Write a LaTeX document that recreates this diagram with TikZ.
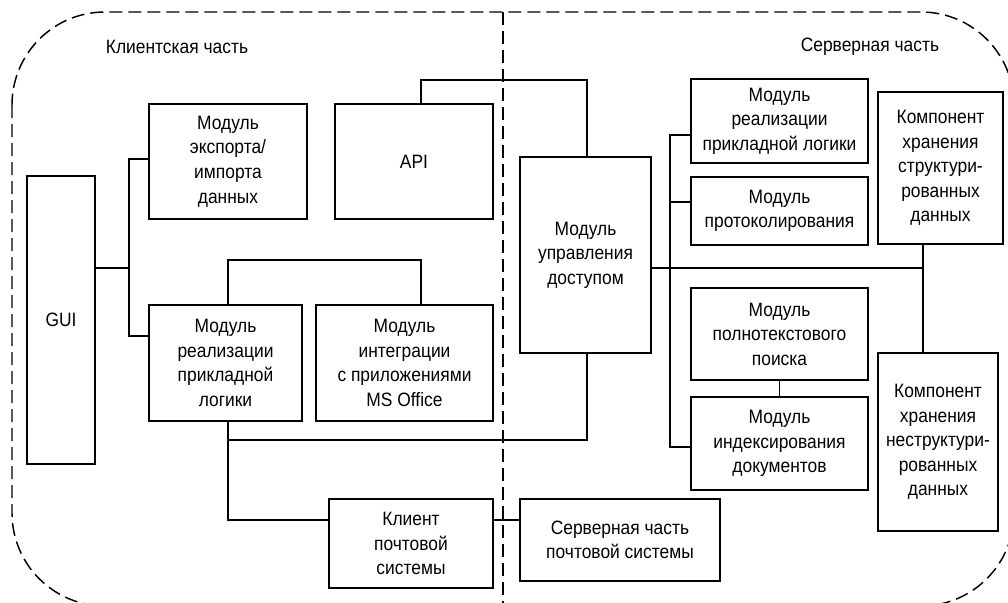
\documentclass[tikz,border=0pt]{standalone}
\usepackage{fontspec}
\setmainfont{Liberation Sans}[FakeStretch=0.9]
\usetikzlibrary{calc,positioning}

\begin{document}
\begin{tikzpicture}[
        x=0.75pt, y=-0.75pt,
        line width=1.3pt,
        every node/.style={font=\fontsize{14.5}{18.4}\selectfont, align=center, inner sep=0pt},
        box/.style 2 args={draw, minimum width=#1*0.75pt, minimum height=#2*0.75pt},
        boundary/.style={line width=1.1pt, dash pattern=on 9.75pt off 4.5pt}
    ]
    \useasboundingbox (0,0) rectangle (1008,603);
    \clip (0,0) rectangle (1008,603);

    % Parts
    \draw[boundary, rounded corners=69.75pt] (12,12) rectangle (1014,606);
    \draw[boundary] (503,12) -- (503,610);
    \node (client) at (177,47) {Клиентская часть};
    \node (server) at (870,47) {Серверная часть};

    % Nodes
    \node (gui)[box={68}{288}] at (61,320) {GUI};
    \node (export)[box={158}{115}] at (228,161.5) {Модуль \\ экспорта/ \\ импорта \\ данных};
    \node (api)[box={158}{115}] at (414,161.5) {API};
    \node (logic)[box={153}{116}] at (225.5,363) {Модуль \\ реализации \\ прикладной \\ логики};
    \node (office)[box={177}{116}] at (404.5,363) {Модуль \\ интеграции \\ с приложениями \\ MS Office};
    \node (mclient)[box={164}{89}] at (411,543.5) {Клиент \\ почтовой \\ системы};

    \node (access)[box={131}{196}] at (585.5,255) {Модуль \\ управления \\ доступом};
    \node (slogic)[box={177}{84}] at (779.5,121) {Модуль \\ реализации \\ прикладной логики};
    \node (proto)[box={177}{68}] at (779.5,211) {Модуль \\ протоколирования};
    \node (search)[box={177}{92}] at (779.5,334) {Модуль \\ полнотекстового \\ поиска};
    \node (index)[box={177}{93}] at (779.5,443.5) {Модуль \\ индексирования \\ документов};
    \node (struct)[box={125}{152}] at (940.5,168) {Компонент \\ хранения \\ структури- \\ рованных \\ данных};
    \node (unstruct)[box={120}{178}] at (938,442) {Компонент \\ хранения \\ неструктури- \\ рованных \\ данных};
    \node (mserver)[box={200}{82}] at (620,540) {Серверная часть \\ почтовой системы};

    % Edges
    \coordinate (lbus) at (129,268);
    \coordinate (stor) at (923,268);

    \draw (gui.east |- lbus) -- (lbus);
    \draw ($(export.west)+(0,-2.5)$) -| (lbus) |- ($(logic.north west)+(0,32)$);
    \draw ($(api.north)+(7,0)$) -- ++(0,-23) -| ($(access.north)+(1.5,0)$);
    \draw ($(logic.north)+(2.5,0)$) -- ++(0,-44) -| ($(office.north)+(16.5,0)$);
    \draw ($(logic.south)+(2.5,0)$) -- ++(0,18) -| ($(access.south)+(1.5,0)$);
    \draw ($(logic.south)+(2.5,0)$) |- ($(mclient.north west)+(0,22)$);
    \draw ($(mclient.north east)+(0,22)$) -- ($(mserver.north west)+(0,22)$);

    \draw ($(access.east)+(0,13)$) -- (stor);
    \draw (struct.south -| stor) -- (unstruct.north -| stor);
    \draw ($(slogic.west)+(0,14)$) -| ($(index.west)+(-20,3.5)$) -- ($(index.west)+(0,3.5)$);
    \draw ($(proto.west)+(0,-9)$) -- ++(-20,0);
    \draw (search.south) -- (index.north);
    \draw ($(index.east)+(0,3.5)$) -- ($(index.east)+(0,3.5)$ -| unstruct.west);
\end{tikzpicture}
\end{document}
